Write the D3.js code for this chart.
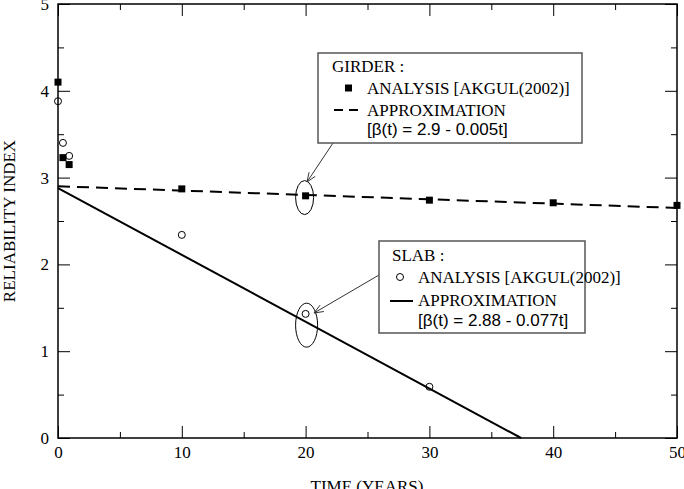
<!DOCTYPE html>
<html>
<head>
<meta charset="utf-8">
<script src="https://cdn.jsdelivr.net/npm/d3@7"></script>
<style>
  body { margin: 0; background: #fff; }
  svg { display: block; }
</style>
</head>
<body>
<svg id="chart"></svg>
<script>
// data
const girderYears = [0, 0.4, 0.9, 10, 20, 30, 40, 50];
const girderIndex = [4.1, 3.23, 3.15, 2.87, 2.79, 2.74, 2.71, 2.68];
const slabYears = [0, 0.4, 0.9, 10, 20, 30];
const slabIndex = [3.88, 3.4, 3.25, 2.34, 1.43, 0.59];
// fitted lines: beta(t) = a - b t
const girderFit = { a: 2.9, b: 0.005 };
const slabFit = { a: 2.88, b: 0.077 };
const xTicks = [0, 10, 20, 30, 40, 50];
const yTicks = [0, 1, 2, 3, 4, 5];

const width = 684;
const height = 489;
const margin = { top: 4, right: 7, bottom: 51, left: 58 };
const serif = "'Liberation Serif', 'Times New Roman', serif";
const sans = "'Liberation Sans', Arial, sans-serif";

const svg = d3.select("#chart").attr("width", width).attr("height", height);

const x = d3.scaleLinear().domain([0, 50]).range([margin.left, width - margin.right]);
const y = d3.scaleLinear().domain([0, 5]).range([height - margin.bottom, margin.top]);

// axes with inward ticks, mirrored on top/right
function styleAxis(g) {
  g.select(".domain").remove();
  g.selectAll("line").attr("stroke", "#000").attr("stroke-width", 1);
  g.selectAll("text").attr("font-family", serif).attr("font-size", 17).attr("fill", "#000");
}
const minorX = d3.range(5, 50, 10);
const minorY = d3.range(0.5, 5, 1);
const fmt = d3.format("d");

svg.append("g")
  .attr("transform", `translate(0,${y(0)})`)
  .call(d3.axisBottom(x).tickValues(xTicks).tickSize(-12).tickPadding(8).tickFormat(fmt))
  .call(styleAxis);
svg.append("g")
  .attr("transform", `translate(0,${y(0)})`)
  .call(d3.axisBottom(x).tickValues(minorX).tickSize(-6).tickFormat(""))
  .call(styleAxis);
svg.append("g")
  .attr("transform", `translate(0,${y(5)})`)
  .call(d3.axisTop(x).tickValues(xTicks).tickSize(-12).tickFormat(""))
  .call(styleAxis);
svg.append("g")
  .attr("transform", `translate(0,${y(5)})`)
  .call(d3.axisTop(x).tickValues(minorX).tickSize(-6).tickFormat(""))
  .call(styleAxis);

svg.append("g")
  .attr("transform", `translate(${x(0)},0)`)
  .call(d3.axisLeft(y).tickValues(yTicks).tickSize(-12).tickPadding(9).tickFormat(fmt))
  .call(styleAxis);
svg.append("g")
  .attr("transform", `translate(${x(0)},0)`)
  .call(d3.axisLeft(y).tickValues(minorY).tickSize(-6).tickFormat(""))
  .call(styleAxis);
svg.append("g")
  .attr("transform", `translate(${x(50)},0)`)
  .call(d3.axisRight(y).tickValues(yTicks).tickSize(-12).tickFormat(""))
  .call(styleAxis);
svg.append("g")
  .attr("transform", `translate(${x(50)},0)`)
  .call(d3.axisRight(y).tickValues(minorY).tickSize(-6).tickFormat(""))
  .call(styleAxis);

// frame
svg.append("rect")
  .attr("x", x(0)).attr("y", y(5))
  .attr("width", x(50) - x(0)).attr("height", y(0) - y(5))
  .attr("fill", "none").attr("stroke", "#000").attr("stroke-width", 1.5);

// axis titles
svg.append("text")
  .attr("transform", `translate(15,${(y(0) + y(5)) / 2}) rotate(-90)`)
  .attr("text-anchor", "middle")
  .attr("font-family", serif).attr("font-size", 17)
  .text("RELIABILITY INDEX");
svg.append("text")
  .attr("x", 367).attr("y", 492)
  .attr("text-anchor", "middle")
  .attr("font-family", serif).attr("font-size", 17)
  .text("TIME (YEARS)");

// fitted lines
const line = d3.line().x((d) => x(d[0])).y((d) => y(d[1]));
const girderEnd = 50;
svg.append("path")
  .datum([[0, girderFit.a], [girderEnd, girderFit.a - girderFit.b * girderEnd]])
  .attr("d", line)
  .attr("fill", "none").attr("stroke", "#000").attr("stroke-width", 2)
  .attr("stroke-dasharray", "12,7");
const slabEnd = slabFit.a / slabFit.b;
svg.append("path")
  .datum([[0, slabFit.a], [slabEnd, 0]])
  .attr("d", line)
  .attr("fill", "none").attr("stroke", "#000").attr("stroke-width", 2);

// analysis points
svg.append("g")
  .selectAll("rect")
  .data(girderYears.map((t, i) => [t, girderIndex[i]]))
  .join("rect")
  .attr("x", (d) => x(d[0]) - 3.5)
  .attr("y", (d) => y(d[1]) - 3.5)
  .attr("width", 7).attr("height", 7)
  .attr("fill", "#000");
svg.append("g")
  .selectAll("circle")
  .data(slabYears.map((t, i) => [t, slabIndex[i]]))
  .join("circle")
  .attr("cx", (d) => x(d[0]))
  .attr("cy", (d) => y(d[1]))
  .attr("r", 3.5)
  .attr("fill", "none").attr("stroke", "#000").attr("stroke-width", 1);

// highlight ellipses at t = 20
svg.append("ellipse")
  .attr("cx", x(20) - 1).attr("cy", y(2.77))
  .attr("rx", 9).attr("ry", 17)
  .attr("fill", "none").attr("stroke", "#000").attr("stroke-width", 1);
svg.append("ellipse")
  .attr("cx", x(20) + 1).attr("cy", y(1.3))
  .attr("rx", 11).attr("ry", 22)
  .attr("fill", "none").attr("stroke", "#000").attr("stroke-width", 1);

// arrows
function arrow(x1, y1, x2, y2) {
  const ang = Math.atan2(y2 - y1, x2 - x1);
  const len = 10, spread = 0.38;
  svg.append("line")
    .attr("x1", x1).attr("y1", y1).attr("x2", x2).attr("y2", y2)
    .attr("stroke", "#333").attr("stroke-width", 1);
  svg.append("path")
    .attr("d", `M${x2 - len * Math.cos(ang - spread)},${y2 - len * Math.sin(ang - spread)}L${x2},${y2}L${x2 - len * Math.cos(ang + spread)},${y2 - len * Math.sin(ang + spread)}`)
    .attr("fill", "none").attr("stroke", "#333").attr("stroke-width", 1);
}
arrow(333, 143, 307, 182);
arrow(379, 275, 314, 313);

// legend boxes
function legendBox(bx, by, bw, bh) {
  svg.append("rect")
    .attr("x", bx).attr("y", by).attr("width", bw).attr("height", bh)
    .attr("fill", "#fff").attr("stroke", "#555").attr("stroke-width", 1.5);
}
function label(tx, ty, str, font) {
  svg.append("text")
    .attr("x", tx).attr("y", ty)
    .attr("font-family", font).attr("font-size", 17)
    .text(str);
}

legendBox(318, 53, 264, 90);
label(332, 72, "GIRDER :", serif);
svg.append("rect").attr("x", 345).attr("y", 84.5).attr("width", 7).attr("height", 7).attr("fill", "#000");
label(367, 94, "ANALYSIS [AKGUL(2002)]", serif);
svg.append("line")
  .attr("x1", 334).attr("x2", 359).attr("y1", 110).attr("y2", 110)
  .attr("stroke", "#000").attr("stroke-width", 2).attr("stroke-dasharray", "9,6");
label(367, 116, "APPROXIMATION", serif);
label(367, 135, `[\u03b2(t) = ${girderFit.a} - ${girderFit.b}t]`, sans);

legendBox(379, 241, 206, 92);
label(392, 261, "SLAB :", serif);
svg.append("circle").attr("cx", 400).attr("cy", 277).attr("r", 3.5)
  .attr("fill", "none").attr("stroke", "#000").attr("stroke-width", 1);
label(418, 283, "ANALYSIS [AKGUL(2002)]", serif);
svg.append("line")
  .attr("x1", 390).attr("x2", 413).attr("y1", 301).attr("y2", 301)
  .attr("stroke", "#000").attr("stroke-width", 2);
label(418, 306, "APPROXIMATION", serif);
label(418, 326, `[\u03b2(t) = ${slabFit.a} - ${slabFit.b}t]`, sans);
</script>
</body>
</html>
